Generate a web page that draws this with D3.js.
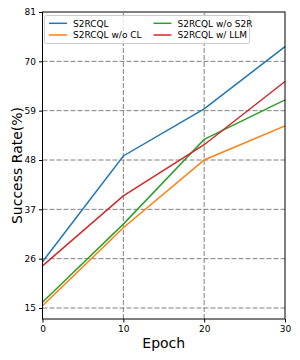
<!DOCTYPE html>
<html>
<head>
<meta charset="utf-8">
<script src="https://cdn.jsdelivr.net/npm/d3@7"></script>
<style>
  body { margin: 0; background: #fff; }
  text { font-family: "DejaVu Sans", sans-serif; }
</style>
</head>
<body>
<svg id="chart" width="300" height="360"></svg>
<script>
const epochs = [0, 10, 20, 30];
const seriesNames = ['S2RCQL', 'S2RCQL w/o CL', 'S2RCQL w/o S2R', 'S2RCQL w/ LLM'];
const seriesColors = ['#1f77b4', '#ff7f0e', '#2ca02c', '#d62728'];
const s2rcql = [25.3, 48.9, 59.4, 73.3];
const woCL = [15.5, 32.9, 48.0, 55.6];
const woS2R = [16.3, 33.7, 52.6, 61.4];
const wLLM = [24.4, 40.0, 51.4, 65.5];
const yTicks = [15, 26, 37, 48, 59, 70, 81];
const xTicks = [0, 10, 20, 30];

const seriesValues = [s2rcql, woCL, woS2R, wLLM];

const svg = d3.select('#chart');
const margin = { left: 42.5, right: 15, top: 12, bottom: 41 };
const width = Number(svg.attr('width'));
const height = Number(svg.attr('height'));

const x = d3.scaleLinear().domain([0, 30]).range([margin.left, width - margin.right]);
const y = d3.scaleLinear().domain([12.55, 81]).range([height - margin.bottom, margin.top]);

// grid
const grid = svg.append('g');
grid.selectAll('line.gx').data(xTicks.slice(1, -1))
	.enter().append('line')
		.attr('x1', d => x(d)).attr('x2', d => x(d))
		.attr('y1', y.range()[0]).attr('y2', y.range()[1])
		.attr('stroke', '#808080').attr('stroke-width', 1)
		.attr('stroke-dasharray', '5,2');
grid.selectAll('line.gy').data(yTicks.slice(0, -1))
	.enter().append('line')
		.attr('x1', x.range()[0]).attr('x2', x.range()[1])
		.attr('y1', d => y(d)).attr('y2', d => y(d))
		.attr('stroke', '#808080').attr('stroke-width', 1)
		.attr('stroke-dasharray', '5,2');

// lines
const line = d3.line()
	.x((d, i) => x(epochs[i]))
	.y(d => y(d));

svg.append('g').selectAll('path')
	.data(seriesValues)
	.enter().append('path')
		.attr('d', d => line(d))
		.attr('fill', 'none')
		.attr('stroke', (d, i) => seriesColors[i])
		.attr('stroke-width', 1.5);

// axes
const xAxis = svg.append('g')
	.attr('transform', `translate(0,${y.range()[0]})`)
	.call(d3.axisBottom(x).tickValues(xTicks).tickSize(3.5).tickPadding(3));
const yAxis = svg.append('g')
	.attr('transform', `translate(${x.range()[0]},0)`)
	.call(d3.axisLeft(y).tickValues(yTicks).tickSize(3.5).tickPadding(3));
[xAxis, yAxis].forEach(a => {
	a.selectAll('text').attr('font-size', 9).attr('fill', '#000').style('font-family', '"DejaVu Sans", sans-serif');
	a.select('.domain').remove();
});

// frame
svg.append('rect')
	.attr('x', x.range()[0]).attr('y', y.range()[1])
	.attr('width', x.range()[1] - x.range()[0])
	.attr('height', y.range()[0] - y.range()[1])
	.attr('fill', 'none').attr('stroke', '#000').attr('stroke-width', 1);

// labels
svg.append('text')
	.attr('x', (x.range()[0] + x.range()[1]) / 2).attr('y', 348)
	.attr('text-anchor', 'middle').attr('font-size', 14)
	.text('Epoch');
svg.append('text')
	.attr('transform', `translate(22,${(y.range()[0] + y.range()[1]) / 2}) rotate(-90)`)
	.attr('text-anchor', 'middle').attr('font-size', 14)
	.text('Success Rate(%)');

// legend
const legend = svg.append('g');
legend.append('rect')
	.attr('x', 44.5).attr('y', 15.5).attr('width', 205).attr('height', 28).attr('rx', 2)
	.attr('fill', '#fff').attr('fill-opacity', 0.8)
	.attr('stroke', '#ccc').attr('stroke-width', 1);
const legendPos = [[49, 23.3], [49, 35], [153.5, 23.3], [153.5, 35]];
const items = legend.selectAll('g.item').data(seriesNames)
	.enter().append('g')
		.attr('transform', (d, i) => `translate(${legendPos[i][0]},${legendPos[i][1]})`);
items.append('line')
	.attr('x1', 0).attr('x2', 18).attr('y1', 0).attr('y2', 0)
	.attr('stroke', (d, i) => seriesColors[i]).attr('stroke-width', 1.5);
items.append('text')
	.attr('x', 24).attr('y', 3.3).attr('font-size', 9)
	.text(d => d);
</script>
</body>
</html>
